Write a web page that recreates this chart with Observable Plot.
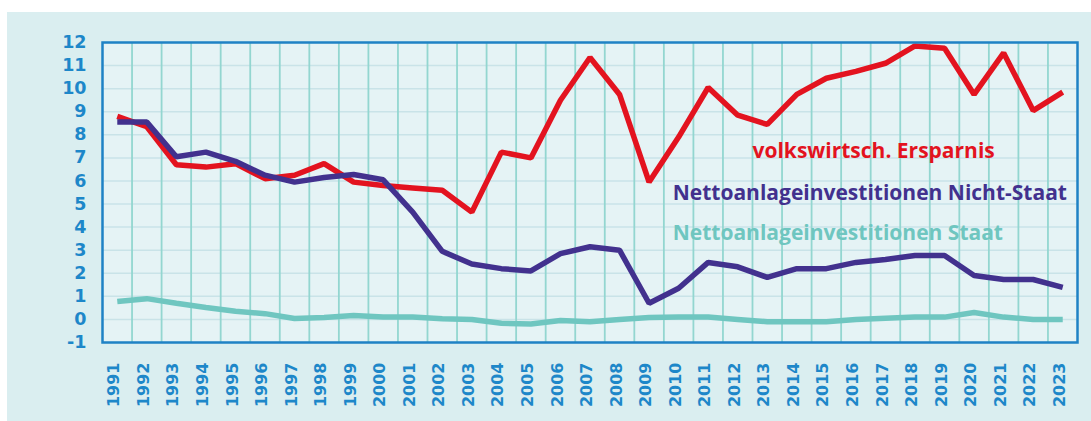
<!DOCTYPE html>
<html><head><meta charset="utf-8">
<script src="https://cdn.jsdelivr.net/npm/d3@7"></script>
<script src="https://cdn.jsdelivr.net/npm/@observablehq/plot@0.6"></script>
<style>
body{margin:0;background:#fff;}
#wrap{position:relative;width:1091px;height:421px;overflow:hidden;}
#panel{position:absolute;left:7px;top:12px;width:1084px;height:409px;background:#daeef0;}
#chart{position:absolute;left:0;top:0;}
</style></head><body>
<div id="wrap"><div id="panel"></div><div id="chart"></div></div>
<script>
const years = [1991,1992,1993,1994,1995,1996,1997,1998,1999,2000,2001,2002,2003,2004,2005,2006,2007,2008,2009,2010,2011,2012,2013,2014,2015,2016,2017,2018,2019,2020,2021,2022,2023];
const ersparnis = [8.8,8.35,6.7,6.6,6.75,6.1,6.25,6.75,5.95,5.8,5.7,5.6,4.65,7.25,7.0,9.5,11.35,9.75,5.95,7.9,10.05,8.85,8.45,9.75,10.45,10.75,11.1,11.85,11.75,9.75,11.55,9.05,9.85];
const nichtStaat = [8.55,8.55,7.05,7.25,6.85,6.25,5.95,6.15,6.28,6.05,4.65,2.95,2.4,2.2,2.1,2.85,3.15,3.0,0.7,1.35,2.47,2.28,1.82,2.2,2.2,2.47,2.6,2.77,2.77,1.9,1.73,1.73,1.39];
const staat = [0.78,0.9,0.7,0.52,0.35,0.25,0.04,0.08,0.17,0.1,0.1,0.03,0.0,-0.17,-0.2,-0.05,-0.1,0.0,0.08,0.1,0.1,0.0,-0.1,-0.1,-0.1,0.0,0.05,0.1,0.1,0.3,0.1,0.0,0.0];
const seriesNames = ["volkswirtsch. Ersparnis","Nettoanlageinvestitionen Nicht-Staat","Nettoanlageinvestitionen Staat"];
const yTicks = [-1,0,1,2,3,4,5,6,7,8,9,10,11,12];

const colors = ["#e3131f","#42318e","#6fc6c0"];
const seriesValues = [ersparnis, nichtStaat, staat];
const rows = [];
seriesValues.forEach((vals, si) => vals.forEach((v, i) => rows.push({year: years[i], value: v, series: seriesNames[si]})));
const boundaries = years.slice(0, -1).map(y => y + 0.5);
const labelPos = [
  {series: seriesNames[0], x: 2012.5, y: 7.3},
  {series: seriesNames[1], x: 2009.8, y: 5.45},
  {series: seriesNames[2], x: 2009.8, y: 3.72}
];

const chart = Plot.plot({
  width: 1091, height: 421,
  marginLeft: 102, marginRight: 14, marginTop: 42, marginBottom: 79,
  style: {background: "transparent", fontFamily: "DejaVu Sans", fontWeight: "bold"},
  x: {domain: [1990.5, 2023.5]},
  y: {domain: [-1, 12]},
  color: {domain: seriesNames, range: colors},
  marks: [
    Plot.frame({fill: "#e5f3f5", stroke: "none"}),
    Plot.ruleY(yTicks, {stroke: "#c9e3e8", strokeWidth: 1.5}),
    Plot.ruleX(boundaries, {stroke: "#93d6d0", strokeWidth: 1.8}),
    Plot.line(rows, {x: "year", y: "value", z: "series", stroke: "series", strokeWidth: 5.5, strokeLinejoin: "miter", strokeLinecap: "butt"}),
    Plot.text(labelPos, {x: "x", y: "y", text: "series", fill: "series", textAnchor: "start", fontSize: 21, fontWeight: "bold", fontFamily: "Open Sans"}),
    Plot.frame({stroke: "#1f82c5", strokeWidth: 2.5}),
    Plot.axisY(yTicks, {tickSize: 0, tickPadding: 16, tickFormat: d => String(d), fontSize: 17.5, fill: "#1d87c9", label: null}),
    Plot.axisX(years, {tickSize: 0, tickPadding: 20, tickRotate: -90, dx: -3, tickFormat: d => String(d), fontSize: 16, fill: "#1d87c9", label: null})
  ]
});
document.getElementById("chart").appendChild(chart);
</script>
</body></html>
